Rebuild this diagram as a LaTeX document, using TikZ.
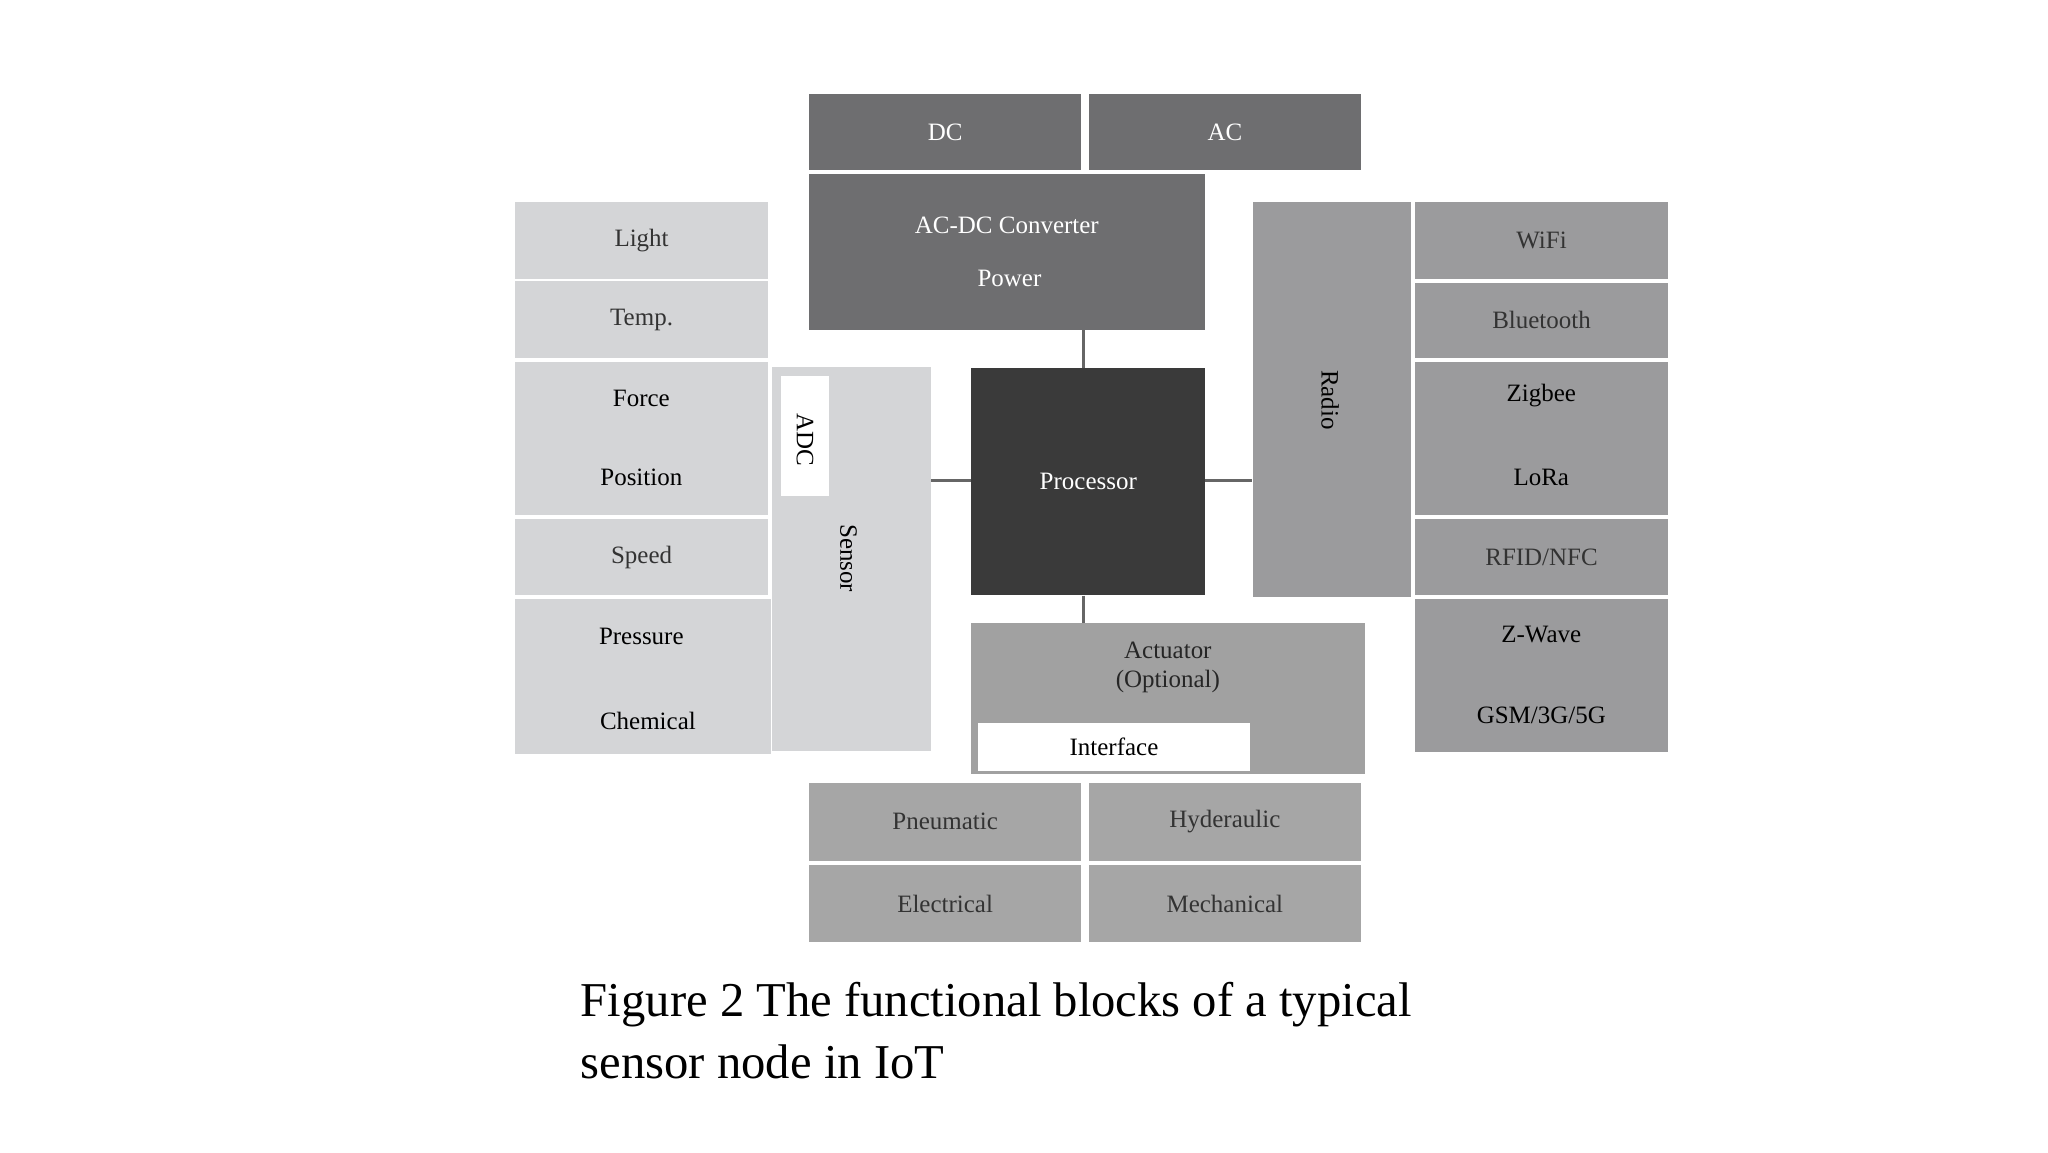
\documentclass[tikz,border=0pt]{standalone}
\usepackage{fontspec}
\setmainfont{Liberation Serif}
\begin{document}
\begin{tikzpicture}[x=1bp,y=-1bp,
  box/.style={draw=none,inner sep=0pt,anchor=north west,font=\fontsize{19}{22}\selectfont},
  dark/.style={box,fill=dk,text=white},
  light/.style={box,fill=lt,text=black!80},
  mid/.style={box,fill=md,text=black!80},
  lbl/.style={font=\fontsize{19}{22}\selectfont,inner sep=0pt},
  conn/.style={draw=black!60,line width=2bp}]
\definecolor{dk}{HTML}{6E6E70}
\definecolor{pr}{HTML}{3A3A3A}
\definecolor{lt}{HTML}{D4D5D7}
\definecolor{md}{HTML}{9B9B9D}
\useasboundingbox[fill=white] (0,0) rectangle (1552,873);
% connectors (drawn first)
\node[dark,minimum width=300bp,minimum height=118bp] (conv) at (613,132) {};
\node[box,fill=pr,text=white,minimum width=177bp,minimum height=172bp] (proc) at (736,279) {Processor};
\node[light,minimum width=120bp,minimum height=291bp] (sens) at (585,278) {};
\node[mid,minimum width=120bp,minimum height=299bp] (radio) at (949,153) {};
\node[mid,fill=black!37,minimum width=298bp,minimum height=114bp] (act) at (736,472) {};
\draw[conn] (conv.south -| 821,0) -- (proc.north -| 821,0);
\draw[conn] (proc.south -| 821,0) -- (act.north -| 821,0);
\draw[conn] (sens.east |- 0,364) -- (proc.west |- 0,364);
\draw[conn] (proc.east |- 0,364) -- (radio.west |- 0,364);
% power
\node[dark,minimum width=206bp,minimum height=58bp] (dc) at (613,71) {DC};
\node[dark,minimum width=206bp,minimum height=58bp] (ac) at (825,71) {AC};
\node[lbl,text=white] (convt) at (763,171) {AC-DC Converter};
\node[lbl,text=white] (powt) at (765,211) {Power};
% sensors
\node[light,minimum width=192bp,minimum height=58bp] (light) at (390,153) {Light};
\node[light,minimum width=192bp,minimum height=58bp] (temp) at (390,213) {Temp.};
\node[light,minimum width=192bp,minimum height=116bp] (fp) at (390,274) {};
\node[lbl] (force) at (486,302) {Force};
\node[lbl] (pos) at (486,362) {Position};
\node[light,minimum width=192bp,minimum height=58bp] (speed) at (390,393) {Speed};
\node[light,minimum width=194bp,minimum height=117bp] (pc) at (390,454) {};
\node[lbl] (press) at (486,482) {Pressure};
\node[lbl] (chem) at (491,546) {Chemical};
\node[box,fill=white,minimum width=36bp,minimum height=91bp] (adc) at (592,285) {};
\node[lbl,rotate=-90] (adct) at (610,333) {ADC};
\node[lbl,rotate=-90] (senst) at (643,423) {Sensor};
% radio
\node[lbl,rotate=-90] (radiot) at (1008,303) {Radio};
\node[mid,minimum width=192bp,minimum height=58bp] (wifi) at (1072,153) {WiFi};
\node[mid,minimum width=192bp,minimum height=57bp] (bt) at (1072,214) {Bluetooth};
\node[mid,minimum width=192bp,minimum height=116bp] (zl) at (1072,274) {};
\node[lbl] (zig) at (1168,300) {Zigbee};
\node[lbl] (lora) at (1168,362) {LoRa};
\node[mid,minimum width=192bp,minimum height=58bp] (rfid) at (1072,393) {RFID/NFC};
\node[mid,minimum width=192bp,minimum height=116bp] (zg) at (1072,454) {};
\node[lbl] (zw) at (1168,481) {Z-Wave};
\node[lbl] (gsm) at (1168,542) {GSM/3G/5G};
% actuator
\node[lbl,align=center,text=black!85] (actt) at (885,506) {Actuator\\(Optional)};
\node[box,fill=white,minimum width=206bp,minimum height=36bp] (intf) at (741,548) {Interface};
\node[mid,fill=black!35,minimum width=206bp,minimum height=59bp] (pn) at (613,593) {Pneumatic};
\node[mid,fill=black!35,minimum width=206bp,minimum height=59bp] (hy) at (825,593) {Hyderaulic};
\node[mid,fill=black!35,minimum width=206bp,minimum height=59bp] (el) at (613,655) {Electrical};
\node[mid,fill=black!35,minimum width=206bp,minimum height=59bp] (me) at (825,655) {Mechanical};
% caption
\node[anchor=north west,align=left,inner sep=0pt,font=\fontsize{37}{47}\selectfont] (cap) at (440,744)
 {Figure 2 The functional blocks of a typical\\sensor node in IoT};
\end{tikzpicture}
\end{document}
